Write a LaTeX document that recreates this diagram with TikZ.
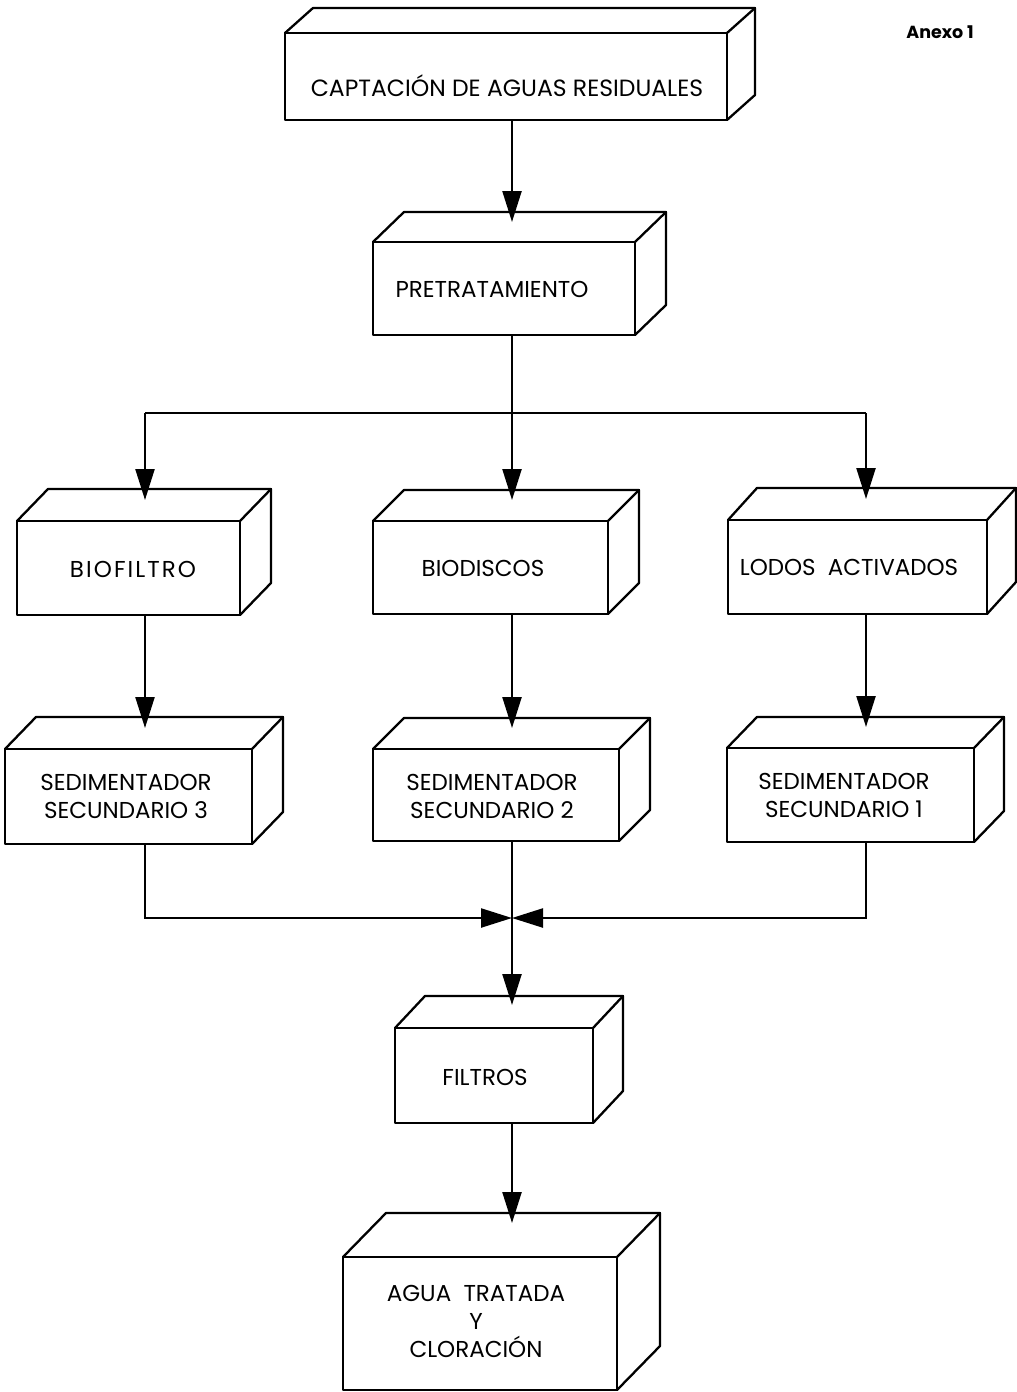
\documentclass[tikz,border=0pt]{standalone}
\usepackage{fontspec}
\setmainfont{Poppins}
\usetikzlibrary{arrows.meta,calc}

\tikzset{
  boxline/.style={line width=2.3pt, line join=round, line cap=round},
  front/.style={boxline, draw, inner sep=0pt, outer sep=0pt, fill=white},
  lbl/.style={inner sep=0pt, align=center, font=\fontsize{23}{28}\selectfont},
  flow/.style={line width=2.3pt},
  arr/.style={flow, -{Triangle[length=31pt, width=19pt]}},
}

% front face of a box as a named node: name, left, top, right, bottom
\newcommand\frontface[5]{%
  \node[front, minimum width=#4-#2, minimum height=#5-#3] (#1)
    at ({(#2+#4)/2},{(#3+#5)/2}) {};}
% top and right faces behind a front face: name, depth x, rise
\newcommand\depthfaces[3]{%
  \draw[boxline] (#1.north west) -- ++(#2,-#3)
    -- ($(#1.north east)+(#2,-#3)$) -- ($(#1.south east)+(#2,-#3)$)
    -- (#1.south east);
  \draw[boxline] (#1.north east) -- ++(#2,-#3);}

\begin{document}
\begin{tikzpicture}[x=1pt, y=-1pt]
\useasboundingbox (0,0) rectangle (1017,1392);

% boxes
\frontface{cap}{285}{33}{727}{120}   \depthfaces{cap}{28}{25}
\frontface{pre}{373}{242}{635}{335}  \depthfaces{pre}{31}{30}
\frontface{bio}{17}{521}{240}{615}   \depthfaces{bio}{31}{32}
\frontface{bds}{373}{521}{608}{614}  \depthfaces{bds}{31}{31}
\frontface{lod}{728}{520}{987}{614}  \depthfaces{lod}{29}{32}
\frontface{sd3}{5}{749}{252}{844}    \depthfaces{sd3}{31}{32}
\frontface{sd2}{373}{749}{619}{841}  \depthfaces{sd2}{31}{31}
\frontface{sd1}{727}{748}{974}{842}  \depthfaces{sd1}{30}{31}
\frontface{fil}{395}{1028}{593}{1123} \depthfaces{fil}{30}{32}
\frontface{agu}{343}{1257}{617}{1390} \depthfaces{agu}{43}{44}

% labels
\node[lbl, font=\fontsize{23.5}{28}\selectfont] (capT) at (507,86) {CAPTACIÓN DE AGUAS RESIDUALES};
\node[lbl] (preT) at (492,289) {PRETRATAMIENTO};
\node[lbl, font=\fontsize{23}{28}\selectfont\addfontfeature{LetterSpace=9}] (bioT) at (133,569) {BIOFILTRO};
\node[lbl] (bdsT) at (483,568) {BIODISCOS};
\node[lbl] (lodT) at (849,567) {LODOS \ ACTIVADOS};
\node[lbl] (sd3T) at (126,796) {SEDIMENTADOR\\SECUNDARIO 3};
\node[lbl] (sd2T) at (492,796) {SEDIMENTADOR\\SECUNDARIO 2};
\node[lbl] (sd1T) at (844,795) {SEDIMENTADOR\\SECUNDARIO 1};
\node[lbl] (filT) at (485,1077) {FILTROS};
\node[lbl] (aguT) at (476,1321) {AGUA \ TRATADA\\Y\\CLORACIÓN};
\node[lbl, font=\fontsize{17.5}{20}\selectfont\bfseries] (anexo) at (940,32) {Anexo 1};

% flow lines
\coordinate (axis) at (512,0);
\coordinate (left) at (145,0);
\coordinate (right) at (866,0);
\coordinate (split) at (512,413);
\coordinate (merge) at (512,918);

\draw[arr] (cap.south -| axis) -- ($(pre.north -| axis)+(0,-20)$);
\draw[flow] (pre.south -| axis) -- (split);
\draw[flow] (split -| left) -- (split -| right);
\draw[arr] (split -| left) -- ($(bio.north -| left)+(0,-21)$);
\draw[arr] (split) -- ($(bds.north -| axis)+(0,-21)$);
\draw[arr] (split -| right) -- ($(lod.north -| right)+(0,-21)$);

\draw[arr] (bio.south -| left) -- ($(sd3.north -| left)+(0,-21)$);
\draw[arr] (bds.south -| axis) -- ($(sd2.north -| axis)+(0,-21)$);
\draw[arr] (lod.south -| right) -- ($(sd1.north -| right)+(0,-21)$);

\draw[arr] (sd3.south -| left) |- (merge);
\draw[arr] (sd1.south -| right) |- (merge);
\draw[arr] (sd2.south -| axis) -- ($(fil.north -| axis)+(0,-23)$);
\draw[arr] (fil.south -| axis) -- ($(agu.north -| axis)+(0,-34)$);
\end{tikzpicture}
\end{document}
